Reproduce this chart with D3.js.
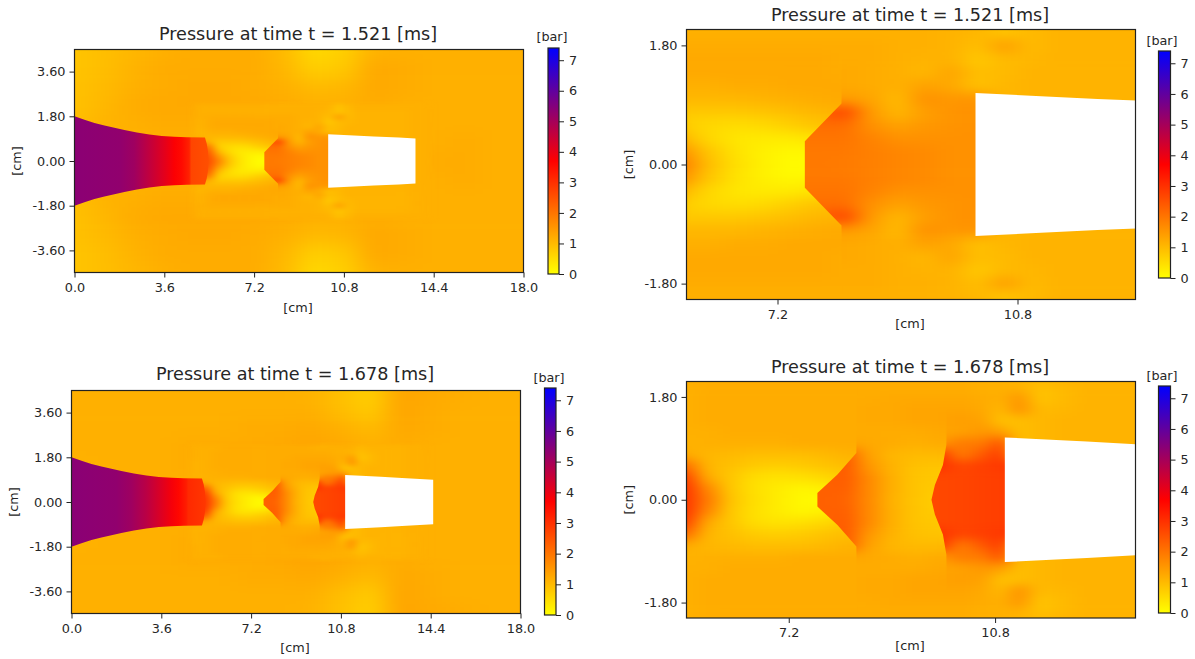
<!DOCTYPE html>
<html>
<head>
<meta charset="utf-8">
<script src="https://cdn.jsdelivr.net/npm/d3@7"></script>
<style>
html, body { margin: 0; padding: 0; background: #fff; }
text { font-family: "DejaVu Sans", sans-serif; fill: #262626; }
</style>
</head>
<body>
<svg id="chart" width="1195" height="659"></svg>
<script>
// pressure, in bar. The field is mirrored about r = 0,
// so only the upper half is kept. Rows go from r = 0 outwards.
var xTicksFull = [0, 3.6, 7.2, 10.8, 14.4, 18];
var yTicksFull = [3.6, 1.8, 0, -1.8, -3.6];
var yTicksZoom = [1.8, 0, -1.8];
var xTicksZoom = [7.2, 10.8];
var barTicks = [0, 1, 2, 3, 4, 5, 6, 7];

var outerX = [0, 1.2, 2.4, 3.6, 4.8, 6, 7.2, 8.4, 9.6, 10.8, 12, 13.2, 14.4, 15.6, 16.8, 18];
var outerR = [0, 0.75, 1.5, 2.25, 3, 3.75, 4.5];
var detailR = [0, 0.2, 0.4, 0.6, 0.8, 1, 1.2, 1.4, 1.6, 1.8, 2, 2.2];

// nozzle jet, same outline at both times
var jetX = [0, 0.4, 0.8, 1.2, 1.6, 2, 2.5, 3, 3.5, 4, 4.5, 5.23, 5.3, 5.35, 5.38];
var jetR = [1.8, 1.66, 1.53, 1.43, 1.34, 1.25, 1.15, 1.07, 1.01, 0.98, 0.96, 0.95, 0.7, 0.4, 0];
var jetStops = [0, 1.8, 2.4, 3, 3.6, 4, 4.3, 4.6, 4.68, 5.38];
var t1JetP = [5.38, 5.3, 5.1, 4.6, 4.1, 3.75, 3.55, 3.2, 2.7, 2.55];
var t2JetP = [5.4, 5.3, 5.1, 4.7, 4.2, 3.85, 3.6, 3.3, 3.1, 2.9];

// t = 1.521
var t1Outer = [
  [1.0, 1.1, 1.1, 1.15, 1.15, 1.15, 1.15, 1.15, 1.15, 1.15, 1.15, 1.15, 1.2, 1.2, 1.15, 1.15],
  [1.0, 1.1, 1.1, 1.15, 1.15, 1.15, 1.15, 1.15, 1.15, 1.15, 1.15, 1.15, 1.15, 1.2, 1.15, 1.15],
  [0.95, 1.1, 1.15, 1.2, 1.2, 1.25, 1.25, 1.2, 1.1, 1.1, 1.15, 1.15, 1.15, 1.15, 1.15, 1.15],
  [0.9, 1.05, 1.2, 1.25, 1.25, 1.25, 1.25, 1.2, 1.15, 1.15, 1.2, 1.15, 1.15, 1.15, 1.15, 1.15],
  [0.9, 1, 1.15, 1.2, 1.25, 1.25, 1.2, 1.15, 1, 1.05, 1.25, 1.2, 1.15, 1.15, 1.15, 1.15],
  [0.85, 0.95, 1.1, 1.2, 1.2, 1.2, 1.2, 1.05, 0.7, 0.8, 1.25, 1.2, 1.15, 1.15, 1.15, 1.15],
  [0.85, 0.95, 1.05, 1.15, 1.2, 1.2, 1.2, 1, 0.55, 0.7, 1.1, 1.15, 1.15, 1.15, 1.15, 1.15]
];
var t1UpX = [5, 5.4, 5.8, 6.2, 6.6, 7, 7.4, 7.8, 8.2, 8.6];
var t1Up = [
  [2.6, 2.6, 1.8, 0.9, 0.45, 0.2, 0.05, 0.05, 0.2, 0.5],
  [2.6, 2.5, 1.5, 0.8, 0.4, 0.2, 0.1, 0.15, 0.3, 0.6],
  [2.5, 2.3, 1, 0.55, 0.35, 0.3, 0.3, 0.4, 0.55, 0.8],
  [2.2, 1.9, 0.7, 0.55, 0.5, 0.55, 0.7, 0.85, 0.95, 1],
  [1.4, 1.1, 0.8, 0.8, 0.8, 0.85, 0.95, 1.05, 1.1, 1.1],
  [1.1, 1.05, 1.05, 1.05, 1.05, 1.1, 1.15, 1.2, 1.25, 1.2],
  [1.05, 1.15, 1.15, 1.15, 1.2, 1.2, 1.25, 1.25, 1.25, 1.2],
  [1.1, 1.2, 1.25, 1.25, 1.25, 1.25, 1.25, 1.25, 1.2, 1.15],
  [1.1, 1.2, 1.25, 1.25, 1.25, 1.25, 1.25, 1.25, 1.2, 1.15],
  [1.15, 1.2, 1.2, 1.2, 1.2, 1.2, 1.2, 1.2, 1.2, 1.15],
  [1.15, 1.15, 1.15, 1.15, 1.15, 1.15, 1.15, 1.15, 1.15, 1.15],
  [1.15, 1.15, 1.15, 1.15, 1.15, 1.15, 1.15, 1.15, 1.15, 1.15]
];
var t1DownX = [7.4, 7.8, 8.2, 8.6, 9, 9.4, 9.8, 10.2, 10.6, 11, 11.4, 11.8, 12.2, 12.6, 13, 13.8];
var t1Down = [
  [1.95, 1.95, 1.9, 1.85, 1.75, 1.7, 1.6, 1.6, 1.6, 1.6, 1.6, 1.1, 1.1, 1.1, 1.1, 1.15],
  [1.95, 1.95, 1.95, 1.85, 1.75, 1.7, 1.6, 1.6, 1.6, 1.6, 1.6, 1.1, 1.1, 1.1, 1.1, 1.15],
  [2, 2, 2, 1.8, 1.6, 1.6, 1.6, 1.6, 1.6, 1.6, 1.6, 1.1, 1.1, 1.1, 1.1, 1.15],
  [2, 2.1, 2.1, 1.6, 1.35, 1.5, 1.55, 1.6, 1.6, 1.6, 1.6, 1.1, 1.1, 1.1, 1.1, 1.15],
  [2.1, 2.3, 2.7, 1.45, 1.05, 1.4, 1.55, 1.6, 1.1, 1.1, 1.1, 1.1, 1.1, 1.1, 1.1, 1.15],
  [1.3, 1.3, 1.45, 1.3, 1, 1.6, 1.5, 1.55, 1.05, 1.1, 1.1, 1.1, 1.1, 1.1, 1.1, 1.15],
  [1.25, 1.25, 1.25, 1.2, 1.15, 1.35, 1.25, 0.9, 1.05, 1.1, 1.1, 1.1, 1.1, 1.1, 1.1, 1.15],
  [1.25, 1.25, 1.25, 1.2, 1.15, 1.05, 1.3, 0.95, 1, 1.1, 1.1, 1.1, 1.1, 1.1, 1.1, 1.15],
  [1.25, 1.25, 1.2, 1.2, 1.15, 1.1, 1.1, 0.8, 1, 1.05, 1.1, 1.1, 1.1, 1.1, 1.1, 1.15],
  [1.2, 1.2, 1.2, 1.2, 1.15, 1.15, 1.1, 0.95, 1.4, 1, 1.1, 1.1, 1.1, 1.1, 1.1, 1.15],
  [1.15, 1.15, 1.15, 1.15, 1.15, 1.15, 1.1, 1.05, 0.85, 1, 1.1, 1.1, 1.1, 1.1, 1.1, 1.15],
  [1.15, 1.15, 1.15, 1.15, 1.15, 1.15, 1.15, 1.1, 0.9, 1.05, 1.15, 1.15, 1.15, 1.15, 1.15, 1.15]
];
var t1FrontX = [7.61, 7.61, 8.16, 8.18];
var t1FrontR = [0, 0.35, 0.92, 2.6];
var t1WhiteX = [10.17, 11, 12, 13, 13.67];
var t1WhiteR = [1.08, 1.04, 0.99, 0.95, 0.91];

// t = 1.678
var t2Outer = [
  [1.05, 1.1, 1.1, 1.15, 1.15, 1.15, 1.15, 1.15, 1.15, 1.15, 1.15, 1.15, 1.15, 1.15, 1.15, 1.15],
  [1.1, 1.15, 1.15, 1.15, 1.15, 1.15, 1.15, 1.15, 1.15, 1.15, 1.15, 1.15, 1.15, 1.15, 1.15, 1.15],
  [1.1, 1.15, 1.15, 1.15, 1.2, 1.2, 1.2, 1.3, 1.3, 1.2, 1.15, 1.15, 1.15, 1.15, 1.15, 1.15],
  [1.15, 1.15, 1.15, 1.15, 1.2, 1.2, 1.2, 1.25, 1.3, 1.25, 1.15, 1.2, 1.15, 1.15, 1.15, 1.15],
  [1.15, 1.15, 1.15, 1.15, 1.15, 1.15, 1.2, 1.2, 1.25, 1.15, 1, 1.25, 1.2, 1.15, 1.15, 1.15],
  [1.15, 1.15, 1.15, 1.15, 1.15, 1.15, 1.15, 1.15, 1.15, 0.95, 0.75, 1.3, 1.2, 1.15, 1.15, 1.15],
  [1.15, 1.15, 1.15, 1.15, 1.15, 1.15, 1.15, 1.15, 1.1, 0.9, 0.7, 1.3, 1.25, 1.2, 1.15, 1.15]
];
var t2UpX = [5, 5.4, 5.8, 6.2, 6.6, 7, 7.4, 7.8, 8.2, 8.6];
var t2Up = [
  [3, 2.9, 1.9, 0.85, 0.5, 0.28, 0.1, 0.03, 0.2, 0.5],
  [3, 2.9, 1.7, 0.8, 0.45, 0.28, 0.15, 0.2, 0.4, 0.7],
  [2.9, 2.7, 1.2, 0.8, 0.5, 0.4, 0.45, 0.55, 0.75, 0.9],
  [2.5, 2.1, 1.05, 0.9, 0.75, 0.7, 0.75, 0.85, 0.95, 1],
  [1.5, 1.2, 1.05, 1, 0.95, 0.95, 0.95, 1, 1.1, 1.1],
  [1.1, 1.1, 1.15, 1.15, 1.15, 1.15, 1.2, 1.2, 1.2, 1.2],
  [1.1, 1.15, 1.15, 1.2, 1.2, 1.2, 1.2, 1.2, 1.2, 1.2],
  [1.1, 1.15, 1.2, 1.2, 1.2, 1.2, 1.2, 1.2, 1.2, 1.2],
  [1.1, 1.15, 1.2, 1.2, 1.2, 1.2, 1.2, 1.2, 1.2, 1.2],
  [1.15, 1.15, 1.2, 1.2, 1.2, 1.2, 1.2, 1.2, 1.2, 1.2],
  [1.15, 1.15, 1.2, 1.2, 1.2, 1.2, 1.2, 1.2, 1.2, 1.2],
  [1.15, 1.15, 1.15, 1.2, 1.2, 1.2, 1.2, 1.2, 1.2, 1.2]
];
var t2MidX = [7.4, 7.8, 8.2, 8.6, 9, 9.4, 9.8, 10.2];
var t2Mid = [
  [2.3, 2.3, 2.25, 1.7, 1.1, 0.85, 0.7, 0.7],
  [2.3, 2.3, 2.3, 1.7, 1.15, 0.85, 0.75, 0.7],
  [2.3, 2.3, 2.35, 1.7, 1.15, 0.85, 0.8, 0.75],
  [2.3, 2.3, 2.4, 1.5, 1.1, 0.9, 0.85, 0.85],
  [2.2, 2.2, 2.35, 1.35, 1.05, 1, 1, 1.05],
  [1.25, 1.25, 1.3, 1.25, 1.2, 1.15, 1.2, 1.2],
  [1.2, 1.2, 1.2, 1.2, 1.2, 1.2, 1.25, 1.3],
  [1.2, 1.2, 1.2, 1.25, 1.25, 1.3, 1.3, 1.35],
  [1.2, 1.2, 1.2, 1.25, 1.25, 1.3, 1.3, 1.3],
  [1.2, 1.2, 1.2, 1.2, 1.25, 1.25, 1.25, 1.25],
  [1.2, 1.2, 1.2, 1.2, 1.2, 1.2, 1.2, 1.2],
  [1.2, 1.2, 1.2, 1.2, 1.2, 1.2, 1.15, 1.15]
];
var t2DownX = [9.4, 9.8, 10.2, 10.6, 10.9, 11.2, 11.6, 12, 12.4, 13, 13.8];
var t2Down = [
  [2.65, 2.65, 2.7, 2.75, 2.8, 2.8, 2.8, 1.1, 1.1, 1.1, 1.15],
  [2.65, 2.65, 2.7, 2.75, 2.8, 2.8, 2.8, 1.1, 1.1, 1.1, 1.15],
  [2.65, 2.65, 2.7, 2.75, 2.8, 2.8, 2.8, 1.1, 1.1, 1.1, 1.15],
  [3, 3, 2.7, 2.8, 2.9, 2.9, 2.9, 1.1, 1.1, 1.1, 1.15],
  [3.2, 3, 1.9, 2.4, 2.9, 1.05, 1.05, 1.1, 1.1, 1.1, 1.15],
  [1.3, 1.45, 1.9, 1.9, 2.6, 0.95, 1.05, 1.1, 1.1, 1.1, 1.15],
  [1.25, 1.3, 1.35, 1.5, 1.4, 0.95, 1.05, 1.1, 1.1, 1.1, 1.15],
  [1.3, 1.35, 1.4, 1.35, 0.85, 0.95, 1.05, 1.1, 1.1, 1.1, 1.15],
  [1.3, 1.3, 1.3, 1.25, 1, 1.6, 1, 1.05, 1.1, 1.1, 1.15],
  [1.25, 1.25, 1.25, 1.2, 1.15, 1.5, 0.85, 1, 1.1, 1.1, 1.15],
  [1.2, 1.2, 1.2, 1.15, 1.15, 1.1, 0.95, 1.05, 1.1, 1.1, 1.15],
  [1.15, 1.15, 1.15, 1.15, 1.15, 1.15, 1.05, 1.1, 1.1, 1.1, 1.15]
];
var t2Front1X = [7.7, 7.7, 8.05, 8.38, 8.4];
var t2Front1R = [0, 0.12, 0.44, 0.82, 2.6];
var t2Front2X = [9.69, 9.75, 9.89, 9.95, 9.97];
var t2Front2R = [0, 0.26, 0.61, 0.96, 2.6];
var t2WhiteX = [10.97, 11.6, 12.4, 13.25, 14.5];
var t2WhiteR = [1.09, 1.06, 1.02, 0.97, 0.9];

// yellow -> red -> blue over the colour bar range
var pressureColor = d3.scaleLinear()
    .domain([0, 3.7, 7.4])
    .range(['#ffff00', '#ff0000', '#0000ff']);

var svg = d3.select('#chart');
var defs = svg.append('defs');

function drawCells(g, xs, rs, rows, px, py, bleed)
{
    var cells = [];
    for (var i=0; i<rs.length; i++)
    {
        var r0 = i == 0 ? 0 : (rs[i-1]+rs[i])/2;
        var r1 = i == rs.length-1 ? rs[i]+(rs[i]-rs[i-1])/2+bleed : (rs[i]+rs[i+1])/2;
        for (var j=0; j<xs.length; j++)
        {
            var x0 = j == 0 ? xs[0]-(xs[1]-xs[0])/2-bleed : (xs[j-1]+xs[j])/2;
            var x1 = j == xs.length-1 ? xs[j]+(xs[j]-xs[j-1])/2+bleed : (xs[j]+xs[j+1])/2;
            cells.push({x0: x0, x1: x1, y0: r0, y1: r1, p: rows[i][j]});
            cells.push({x0: x0, x1: x1, y0: -r1, y1: -r0, p: rows[i][j]});
        }
    }
    g.selectAll('rect')
        .data(cells)
        .enter().append('rect')
        .attr('x', function(c) { return px(c.x0); })
        .attr('y', function(c) { return py(c.y1); })
        .attr('width', function(c) { return px(c.x1)-px(c.x0)+0.6; })
        .attr('height', function(c) { return py(c.y0)-py(c.y1)+0.6; })
        .attr('fill', function(c) { return pressureColor(c.p); });
}

function addBlur(id, sx, sy)
{
    var f = defs.append('filter')
        .attr('id', id)
        .attr('filterUnits', 'userSpaceOnUse')
        .attr('x', -400).attr('y', -400)
        .attr('width', 2000).attr('height', 1500)
        .attr('color-interpolation-filters', 'sRGB');
    f.append('feGaussianBlur').attr('stdDeviation', sx+' '+sy);
    return 'url(#'+id+')';
}

// closed outline from upper half points, mirrored about r = 0
function mirrored(xs, rs, px, py)
{
    var pts = [];
    for (var i=0; i<xs.length; i++) pts.push([px(xs[i]), py(rs[i])]);
    for (var i=xs.length-1; i>=0; i--) pts.push([px(xs[i]), py(-rs[i])]);
    return pts;
}

function drawPanel(p)
{
    var px = d3.scaleLinear().domain(p.xDomain).range([p.left, p.right]);
    var py = d3.scaleLinear().domain(p.yDomain).range([p.bottom, p.top]);
    var kx = Math.abs(px(1)-px(0));
    var ky = Math.abs(py(1)-py(0));
    var line = d3.line();

    defs.append('clipPath').attr('id', p.id+'-axes')
        .append('rect')
        .attr('x', p.left).attr('y', p.top)
        .attr('width', p.right-p.left).attr('height', p.bottom-p.top);

    var plot = svg.append('g').attr('clip-path', 'url(#'+p.id+'-axes)');
    plot.append('rect')
        .attr('x', p.left).attr('y', p.top)
        .attr('width', p.right-p.left).attr('height', p.bottom-p.top)
        .attr('fill', pressureColor(1.15));

    var outerBlur = addBlur(p.id+'-outer', 0.5*kx, 0.3*ky);
    var detailBlur = addBlur(p.id+'-detail', 0.16*kx, 0.08*ky);

    var og = plot.append('g').attr('filter', outerBlur);
    drawCells(og, outerX, outerR, p.field.outer, px, py, 3);

    // each layer starts behind a shock front, the clip keeps that edge sharp
    p.field.layers.forEach(function(l, n) {
        var host = plot;
        if (l.frontX)
        {
            var outline = mirrored(l.frontX, l.frontR, px, py);
            var mid = outline.length/2;
            var far = [[px(20), py(l.frontR[l.frontR.length-1])], [px(20), py(-l.frontR[l.frontR.length-1])]];
            outline = outline.slice(0, mid).concat(far, outline.slice(mid));
            defs.append('clipPath').attr('id', p.id+'-front'+n)
                .append('path').attr('d', line(outline)+'Z');
            host = plot.append('g').attr('clip-path', 'url(#'+p.id+'-front'+n+')');
        }
        var lg = host.append('g').attr('filter', detailBlur);
        drawCells(lg, l.x, detailR, l.rows, px, py, 0);
    });

    // jet
    var grad = defs.append('linearGradient').attr('id', p.id+'-jet')
        .attr('gradientUnits', 'userSpaceOnUse')
        .attr('x1', px(0)).attr('x2', px(jetStops[jetStops.length-1]))
        .attr('y1', 0).attr('y2', 0);
    grad.selectAll('stop').data(jetStops).enter().append('stop')
        .attr('offset', function(d) { return d/jetStops[jetStops.length-1]; })
        .attr('stop-color', function(d, i) { return pressureColor(p.field.jetP[i]); });
    plot.append('path')
        .attr('d', line(mirrored(jetX, jetR, px, py))+'Z')
        .attr('fill', 'url(#'+p.id+'-jet)');

    // region the solver has not filled
    plot.append('path')
        .attr('d', line(mirrored(p.field.whiteX, p.field.whiteR, px, py))+'Z')
        .attr('fill', '#fff');

    svg.append('rect')
        .attr('x', p.left).attr('y', p.top)
        .attr('width', p.right-p.left).attr('height', p.bottom-p.top)
        .attr('fill', 'none').attr('stroke', '#222').attr('stroke-width', 1.2);

    var xAxis = d3.axisBottom(px).tickValues(p.xTicks).tickSize(5).tickPadding(5)
        .tickFormat(function(d) { return d.toFixed(1); });
    var yAxis = d3.axisLeft(py).tickValues(p.yTicks).tickSize(5).tickPadding(4)
        .tickFormat(function(d) { return d.toFixed(2); });
    var gx = svg.append('g').attr('transform', 'translate(0,'+p.bottom+')').call(xAxis);
    var gy = svg.append('g').attr('transform', 'translate('+p.left+',0)').call(yAxis);
    [gx, gy].forEach(function(a) {
        a.select('.domain').remove();
        a.attr('font-family', null).attr('font-size', null);
        a.selectAll('text').style('font-size', '12.8px');
        a.selectAll('line').attr('stroke', '#222');
    });

    svg.append('text').attr('x', p.titleX).attr('y', p.titleY)
        .attr('text-anchor', 'middle').style('font-size', '17.6px').text(p.title);
    svg.append('text').attr('x', p.xLabelX).attr('y', p.xLabelY)
        .attr('text-anchor', 'middle').style('font-size', '12.8px').text('[cm]');
    svg.append('text')
        .attr('transform', 'translate('+p.yLabelX+','+(p.top+p.bottom)/2+') rotate(-90)')
        .attr('text-anchor', 'middle').style('font-size', '12.8px').text('[cm]');

    // colour bar
    var by = d3.scaleLinear().domain([0, 7.4]).range([p.barBottom, p.barTop]);
    var barGrad = defs.append('linearGradient').attr('id', p.id+'-bar')
        .attr('x1', 0).attr('x2', 0).attr('y1', 1).attr('y2', 0);
    barGrad.selectAll('stop').data(pressureColor.domain()).enter().append('stop')
        .attr('offset', function(d) { return d/7.4; })
        .attr('stop-color', function(d) { return pressureColor(d); });
    svg.append('rect')
        .attr('x', p.barLeft).attr('y', p.barTop)
        .attr('width', p.barRight-p.barLeft).attr('height', p.barBottom-p.barTop)
        .attr('fill', 'url(#'+p.id+'-bar)')
        .attr('stroke', '#222').attr('stroke-width', 1.2);
    var gb = svg.append('g').attr('transform', 'translate('+p.barRight+',0)')
        .call(d3.axisRight(by).tickValues(barTicks).tickSize(5).tickPadding(5)
            .tickFormat(function(d) { return d; }));
    gb.select('.domain').remove();
    gb.attr('font-family', null).attr('font-size', null);
    gb.selectAll('text').style('font-size', '12.8px');
    gb.selectAll('line').attr('stroke', '#222');
    svg.append('text').attr('x', p.barLabelX).attr('y', p.barLabelY)
        .attr('text-anchor', 'middle').style('font-size', '12.8px').text('[bar]');
}

var fieldOne = {
    outer: t1Outer, jetP: t1JetP, whiteX: t1WhiteX, whiteR: t1WhiteR,
    layers: [
        {x: t1UpX, rows: t1Up},
        {x: t1DownX, rows: t1Down, frontX: t1FrontX, frontR: t1FrontR}
    ]
};
var fieldTwo = {
    outer: t2Outer, jetP: t2JetP, whiteX: t2WhiteX, whiteR: t2WhiteR,
    layers: [
        {x: t2UpX, rows: t2Up},
        {x: t2MidX, rows: t2Mid, frontX: t2Front1X, frontR: t2Front1R},
        {x: t2DownX, rows: t2Down, frontX: t2Front2X, frontR: t2Front2R}
    ]
};

drawPanel({id: 'a', field: fieldOne, title: 'Pressure at time t = 1.521 [ms]',
    left: 74.5, right: 523.5, top: 49.5, bottom: 272.5,
    xDomain: [0, 18], yDomain: [-4.49, 4.49], xTicks: xTicksFull, yTicks: yTicksFull,
    titleX: 298, titleY: 40, xLabelX: 298, xLabelY: 312, yLabelX: 21,
    barLeft: 548, barRight: 559, barTop: 48, barBottom: 274, barLabelX: 552, barLabelY: 41});
drawPanel({id: 'b', field: fieldOne, title: 'Pressure at time t = 1.521 [ms]',
    left: 686.5, right: 1135.5, top: 29.5, bottom: 299.5,
    xDomain: [5.835, 12.57], yDomain: [-2.04, 2.04], xTicks: xTicksZoom, yTicks: yTicksZoom,
    titleX: 910, titleY: 21, xLabelX: 910, xLabelY: 328, yLabelX: 633,
    barLeft: 1158.5, barRight: 1170.5, barTop: 51, barBottom: 278, barLabelX: 1162, barLabelY: 45});
drawPanel({id: 'c', field: fieldTwo, title: 'Pressure at time t = 1.678 [ms]',
    left: 71.5, right: 520.5, top: 390.5, bottom: 613.5,
    xDomain: [0, 18], yDomain: [-4.49, 4.49], xTicks: xTicksFull, yTicks: yTicksFull,
    titleX: 295, titleY: 380, xLabelX: 295, xLabelY: 652, yLabelX: 18,
    barLeft: 544.5, barRight: 556, barTop: 388, barBottom: 615, barLabelX: 549, barLabelY: 382});
drawPanel({id: 'd', field: fieldTwo, title: 'Pressure at time t = 1.678 [ms]',
    left: 686.5, right: 1135.5, top: 381.5, bottom: 618,
    xDomain: [5.416, 13.25], yDomain: [-2.07, 2.07], xTicks: xTicksZoom, yTicks: yTicksZoom,
    titleX: 910, titleY: 373, xLabelX: 910, xLabelY: 650, yLabelX: 633,
    barLeft: 1158.5, barRight: 1170.5, barTop: 386, barBottom: 613, barLabelX: 1162, barLabelY: 380});
</script>
</body>
</html>
